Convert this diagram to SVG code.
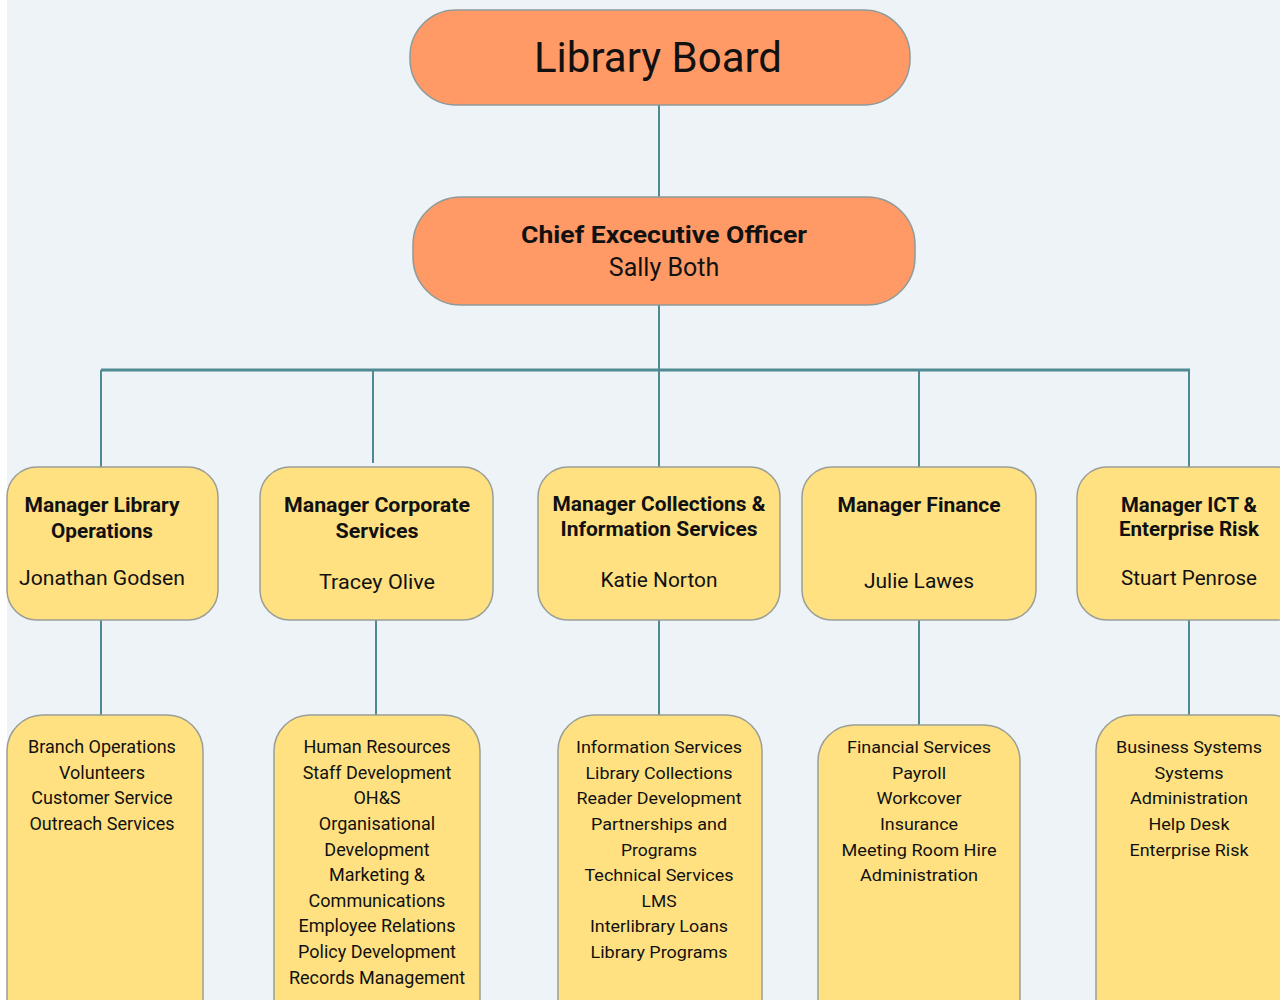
<svg xmlns="http://www.w3.org/2000/svg" width="1280" height="1003" viewBox="0 0 1280 1003">
<style>
.bg{fill:#EDF3F6}
.top{fill:#FF9A66;stroke:#8E9A9A;stroke-width:1.5}
.mgr{fill:#FFE182;stroke:#9A9E96;stroke-width:1.5}
.ln{stroke:#4E8A90;stroke-width:2;fill:none}
text{font-family:Roboto,"Liberation Sans",sans-serif;fill:#111;text-anchor:middle}
.b{font-weight:bold;font-size:20px}
.n{font-size:20px}
.l{font-size:17px}
.w{font-size:18px}
</style>
<defs>
<clipPath id="page"><rect x="0" y="0" width="1280" height="1000"/></clipPath>
</defs>
<rect width="1280" height="1003" fill="#FFFFFF"/>
<rect class="bg" x="7" y="0" width="1273" height="1000"/>
<g id="connectors">
<path class="ln" d="M659 105V197M659 305V370M659 370V467M101 370V467M373 370V463M919 370V467M1189 370V467"/>
<path class="ln" d="M101 370H1190" style="stroke-width:3"/>
<path class="ln" d="M101 620V715M376 620V715M659 620V715M919 620V725M1189 620V715"/>
</g>
<g id="board">
<rect class="top" x="410" y="10" width="500" height="95" rx="46"/>
<text x="658" y="72" style="font-size:42px">Library Board</text>
</g>
<g id="ceo">
<rect class="top" x="413" y="197" width="502" height="108" rx="48"/>
<text x="664" y="243" style="font-weight:bold;font-size:24px" textLength="286" lengthAdjust="spacingAndGlyphs">Chief Excecutive Officer</text>
<text x="664" y="276" style="font-size:25px">Sally Both</text>
</g>
<g id="m1">
<rect class="mgr" x="7" y="467" width="211" height="153" rx="30"/>
<text class="b" x="102" y="512" textLength="155" lengthAdjust="spacingAndGlyphs">Manager Library</text>
<text class="b" x="102" y="538" textLength="102" lengthAdjust="spacingAndGlyphs">Operations</text>
<text class="n" x="102" y="585" textLength="166" lengthAdjust="spacingAndGlyphs">Jonathan Godsen</text>
</g>
<g id="m2">
<rect class="mgr" x="260" y="467" width="233" height="153" rx="30"/>
<text class="b" x="377" y="512" textLength="186" lengthAdjust="spacingAndGlyphs">Manager Corporate</text>
<text class="b" x="377" y="538" textLength="83" lengthAdjust="spacingAndGlyphs">Services</text>
<text class="n" x="377" y="589" textLength="116" lengthAdjust="spacingAndGlyphs">Tracey Olive</text>
</g>
<g id="m3">
<rect class="mgr" x="538" y="467" width="242" height="153" rx="30"/>
<text class="b" x="659" y="511" textLength="213" lengthAdjust="spacingAndGlyphs">Manager Collections &amp;</text>
<text class="b" x="659" y="536" textLength="197" lengthAdjust="spacingAndGlyphs">Information Services</text>
<text class="n" x="659" y="587" textLength="117" lengthAdjust="spacingAndGlyphs">Katie Norton</text>
</g>
<g id="m4">
<rect class="mgr" x="802" y="467" width="234" height="153" rx="30"/>
<text class="b" x="919" y="512" textLength="163" lengthAdjust="spacingAndGlyphs">Manager Finance</text>
<text class="n" x="919" y="588" textLength="110" lengthAdjust="spacingAndGlyphs">Julie Lawes</text>
</g>
<g id="m5">
<rect class="mgr" x="1077" y="467" width="230" height="153" rx="30"/>
<text class="b" x="1189" y="512" textLength="136" lengthAdjust="spacingAndGlyphs">Manager ICT &amp;</text>
<text class="b" x="1189" y="536" textLength="140" lengthAdjust="spacingAndGlyphs">Enterprise Risk</text>
<text class="n" x="1189" y="585" textLength="136" lengthAdjust="spacingAndGlyphs">Stuart Penrose</text>
</g>
<g clip-path="url(#page)">
<g id="d1">
<rect class="mgr" x="7" y="715" width="196" height="330" rx="36"/>
<text class="l w" x="102" y="753">Branch Operations</text>
<text class="l w" x="102" y="779">Volunteers</text>
<text class="l w" x="102" y="804">Customer Service</text>
<text class="l w" x="102" y="830">Outreach Services</text>
</g>
<g id="d2">
<rect class="mgr" x="274" y="715" width="206" height="330" rx="36"/>
<text class="l w" x="377" y="753">Human Resources</text>
<text class="l w" x="377" y="779">Staff Development</text>
<text class="l w" x="377" y="804">OH&amp;S</text>
<text class="l w" x="377" y="830">Organisational</text>
<text class="l w" x="377" y="856">Development</text>
<text class="l w" x="377" y="881">Marketing &amp;</text>
<text class="l w" x="377" y="907">Communications</text>
<text class="l w" x="377" y="932">Employee Relations</text>
<text class="l w" x="377" y="958">Policy Development</text>
<text class="l w" x="377" y="984">Records Management</text>
</g>
<g id="d3">
<rect class="mgr" x="558" y="715" width="204" height="330" rx="36"/>
<text class="l" x="659" y="753" textLength="166" lengthAdjust="spacingAndGlyphs">Information Services</text>
<text class="l" x="659" y="779" textLength="147" lengthAdjust="spacingAndGlyphs">Library Collections</text>
<text class="l" x="659" y="804" textLength="165" lengthAdjust="spacingAndGlyphs">Reader Development</text>
<text class="l" x="659" y="830" textLength="136" lengthAdjust="spacingAndGlyphs">Partnerships and</text>
<text class="l" x="659" y="856" textLength="76" lengthAdjust="spacingAndGlyphs">Programs</text>
<text class="l" x="659" y="881" textLength="149" lengthAdjust="spacingAndGlyphs">Technical Services</text>
<text class="l" x="659" y="907" textLength="35" lengthAdjust="spacingAndGlyphs">LMS</text>
<text class="l" x="659" y="932" textLength="138" lengthAdjust="spacingAndGlyphs">Interlibrary Loans</text>
<text class="l" x="659" y="958" textLength="137" lengthAdjust="spacingAndGlyphs">Library Programs</text>
</g>
<g id="d4">
<rect class="mgr" x="818" y="725" width="202" height="320" rx="36"/>
<text class="l" x="919" y="753" textLength="144" lengthAdjust="spacingAndGlyphs">Financial Services</text>
<text class="l" x="919" y="779" textLength="54" lengthAdjust="spacingAndGlyphs">Payroll</text>
<text class="l" x="919" y="804" textLength="85" lengthAdjust="spacingAndGlyphs">Workcover</text>
<text class="l" x="919" y="830" textLength="78" lengthAdjust="spacingAndGlyphs">Insurance</text>
<text class="l" x="919" y="856" textLength="155" lengthAdjust="spacingAndGlyphs">Meeting Room Hire</text>
<text class="l" x="919" y="881" textLength="118" lengthAdjust="spacingAndGlyphs">Administration</text>
</g>
<g id="d5">
<rect class="mgr" x="1096" y="715" width="210" height="330" rx="36"/>
<text class="l" x="1189" y="753" textLength="146" lengthAdjust="spacingAndGlyphs">Business Systems</text>
<text class="l" x="1189" y="779" textLength="69" lengthAdjust="spacingAndGlyphs">Systems</text>
<text class="l" x="1189" y="804" textLength="118" lengthAdjust="spacingAndGlyphs">Administration</text>
<text class="l" x="1189" y="830" textLength="81" lengthAdjust="spacingAndGlyphs">Help Desk</text>
<text class="l" x="1189" y="856" textLength="119" lengthAdjust="spacingAndGlyphs">Enterprise Risk</text>
</g>
</g>
</svg>
